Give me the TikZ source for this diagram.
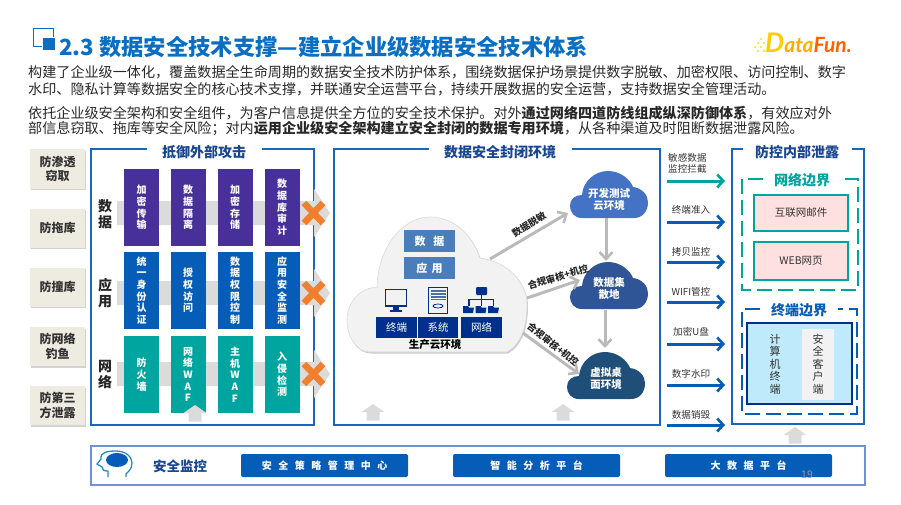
\documentclass[tikz,border=0pt]{standalone}
\usepackage{fontspec}
\setmainfont{Noto Sans CJK SC}
\newfontfamily\logofont{Lato}
\usepackage{xcolor}
\usepackage{tikz}
\usetikzlibrary{arrows.meta, shadows}
\definecolor{frameblue}{RGB}{20,105,190}
\definecolor{titleblue}{RGB}{10,110,195}
\definecolor{headblue}{RGB}{25,70,145}
\definecolor{navy}{RGB}{0,48,140}
\definecolor{cellpurple}{RGB}{71,48,154}
\definecolor{cellblue}{RGB}{5,93,183}
\definecolor{cellteal}{RGB}{0,165,160}
\definecolor{beige}{RGB}{238,236,225}
\definecolor{crossorange}{RGB}{240,128,48}
\definecolor{bodyink}{RGB}{40,40,40}
\definecolor{clouddev}{RGB}{68,114,196}
\definecolor{cloudlake}{RGB}{47,85,151}
\definecolor{cloudvdi}{RGB}{31,78,121}
\definecolor{stackblue}{RGB}{74,126,187}
\definecolor{bandline}{RGB}{110,145,215}
\tikzset{
  sidebox/.style={fill=beige, minimum width=55pt, minimum height=39pt, align=center, font=\fontsize{12}{14.5}\selectfont\bfseries, text=black!80, drop shadow={shadow xshift=1pt, shadow yshift=-1.5pt, opacity=.35}},
  cell/.style={minimum width=35pt, minimum height=77pt, inner sep=0pt, align=center, text=white, font=\fontsize{10}{11.7}\selectfont\bfseries},
  rowlab/.style={align=center, font=\fontsize{14}{16.5}\selectfont\bfseries, text=black!85},
  frametitle/.style={font=\fontsize{14}{16}\selectfont\bfseries, text=headblue},
  frameline/.style={draw=frameblue, line width=1.3pt},
  greybar/.style={fill=black!14},
  upblock/.style={fill=black!14},
  crossmark/.style={draw=crossorange, line width=6.5pt},
  greyarrow/.style={draw=black!27, line width=3pt, -{Straight Barb[length=7pt, width=13pt, line width=2.6pt]}},
  sidearrow/.style={line width=3pt, -{Straight Barb[length=6pt, width=13pt, line width=2.6pt]}},
  flowlab/.style={font=\fontsize{9.5}{11}\selectfont\bfseries, text=black!85, inner sep=0pt},
  sidelab/.style={font=\fontsize{9.6}{11.5}\selectfont, text=black!80, align=left, inner sep=0pt},
  cloudlab/.style={minimum width=78pt, minimum height=47pt, inner sep=0pt, align=center, text=white, font=\fontsize{10.5}{12}\selectfont\bfseries},
  stackbox/.style={fill=#1, inner sep=0pt, text=white},
  bandbox/.style={fill=cellblue, rounded corners=2pt, minimum width=167pt, minimum height=23pt, inner sep=0pt, text=white, font=\fontsize{10}{11}\selectfont\bfseries\addfontfeature{LetterSpace=65}},
  softcloud/.pic={
    \fill[pic actions] (12,47) .. controls (4,47) and (0,41) .. (0,35) .. controls (0,28) and (5,24) .. (12,24)
      .. controls (13,10) and (25,0) .. (38,0) .. controls (50,0) and (60,8) .. (63,16)
      .. controls (72,17) and (78,24) .. (78,31) .. controls (78,41) and (72,47) .. (64,47) -- cycle;
  },
}

\begin{document}
\begin{tikzpicture}[x=1pt, y=-1pt, every node/.style={font=\fontsize{10}{12}\selectfont}]
  \useasboundingbox (0,0) rectangle (901,505);
  % kop
  \draw[titleblue, line width=1pt] (33.5,28.5) rectangle (53,47);
  \fill[white] (42,37) rectangle (56,51);
  \fill[titleblue] (43,38) rectangle (55,50);
  \node[anchor=west, inner sep=0pt, text=titleblue, font=\fontsize{22.3}{24}\selectfont\bfseries] (headline) at (59,47) {2.3 数据安全技术支撑—建立企业级数据安全技术体系};
  % logo
  \foreach \px/\py in {755/47, 758/43, 758/51, 761/39, 761/47, 764/43, 764/51}
    \fill[yellow!85!orange] (\px,\py) circle (1.2);
  \node[anchor=west, inner sep=0pt, font=\logofont\fontsize{27}{28}\selectfont\bfseries\itshape] (logo) at (765,43)
    {\textcolor{yellow!65!orange}{D}\textcolor{orange!65!yellow}{\fontsize{21}{28}\selectfont ata}\textcolor{orange!75!red}{\fontsize{21}{28}\selectfont Fun.}};
  % tekst
  \foreach \ny/\nm/\txt in {
    72/introa/{构建了企业级一体化，覆盖数据全生命周期的数据安全技术防护体系，围绕数据保护场景提供数字脱敏、加密权限、访问控制、数字},
    89/introb/{水印、隐私计算等数据安全的核心技术支撑，并联通安全运营平台，持续开展数据的安全运营，支持数据安全管理活动。},
    113/introc/{依托企业级安全架构和安全组件，为客户信息提供全方位的安全技术保护。对外\textbf{通过网络四道防线组成纵深防御体系}，有效应对外},
    129/introd/{部信息窃取、拖库等安全风险；对内\textbf{运用企业级安全架构建立安全封闭的数据专用环境}，从各种渠道及时阻断数据泄露风险。}}
    \node[anchor=west, inner sep=0pt, text=bodyink, font=\fontsize{14.1}{16}\selectfont] (\nm) at (28,\ny) {\txt};
  % linker kolom
  \foreach \y/\nm/\txt in {169/penetrate/{防渗透\\窃取}, 228/dump/防拖库, 287/stuff/防撞库, 346.5/phish/{防网络\\钓鱼}, 405.5/third/{防第三\\方泄露}}
    \node[sidebox] (\nm) at (57.5,\y) {\txt};
  % kaders
  \draw[frameline] (147,149) -- (91,149) -- (91,425) -- (314,425) -- (314,149) -- (262,149);
  \draw[frameline] (429,149) -- (334,149) -- (334,425) -- (660,425) -- (660,149) -- (572,149);
  \draw[frameline] (743,149) -- (732,149) -- (732,424) -- (864,424) -- (864,149) -- (852,149);
  \node[frametitle] (outertitle) at (204,152) {抵御外部攻击};
  \node[frametitle] (middletitle) at (500,152) {数据安全封闭环境};
  \node[frametitle] (innertitle) at (797,152) {防控内部泄露};
  % grijze pijlen door de rijen
  \foreach \y in {213,293,374}
    \fill[greybar] (117,\y-12) -- (314,\y-12) -- (314,\y-24) -- (330,\y) -- (314,\y+24) -- (314,\y+12) -- (117,\y+12) -- cycle;
  % rijnamen
  \node[rowlab] (rowdata) at (105,214) {数\\据};
  \node[rowlab] (rowapp) at (105,293) {应\\用};
  \node[rowlab] (rownet) at (105,374.5) {网\\络};
  % cellen
  \foreach \x/\nm/\txt in {141.5/a/{加\\密\\传\\输}, 188/b/{数\\据\\隔\\离}, 235/c/{加\\密\\存\\储}, 282/d/{数\\据\\库\\审\\计}}
    \node[cell, fill=cellpurple] (data\nm) at (\x,207.5) {\txt};
  \foreach \x/\nm/\txt in {141.5/a/{统\\一\\身\\份\\认\\证}, 188/b/{授\\权\\访\\问}, 235/c/{数\\据\\权\\限\\控\\制}, 282/d/{应\\用\\安\\全\\监\\测}}
    \node[cell, fill=cellblue] (app\nm) at (\x,290.5) {\txt};
  \foreach \x/\nm/\txt in {141.5/a/{防\\火\\墙}, 188/b/{网\\络\\W\\A\\F}, 235/c/{主\\机\\W\\A\\F}, 282/d/{入\\侵\\检\\测}}
    \node[cell, fill=cellteal] (net\nm) at (\x,374.5) {\txt};
  % kruisen
  \foreach \y in {213,293,374} {
    \draw[crossmark] (304,\y-10) -- (323,\y+10);
    \draw[crossmark] (323,\y-10) -- (304,\y+10);
  }
  % blokpijlen omhoog
  \foreach \x/\y in {195/405, 373/404, 563/404, 795/427} {
    \fill[upblock] (\x,\y) -- (\x+11.5,\y+8) -- (\x+6.5,\y+8) -- (\x+6.5,\y+16.5) -- (\x-6.5,\y+16.5) -- (\x-6.5,\y+8) -- (\x-11.5,\y+8) -- cycle;
  }
  % grote wolk
  \fill[black!5, draw=black!15, line width=.6pt, drop shadow={shadow xshift=1pt, shadow yshift=-1.5pt, opacity=.4}]
    (370,352) .. controls (356,352) and (347,336) .. (347,320) .. controls (347,302) and (360,288) .. (377,287)
    .. controls (378,248) and (402,217) .. (430,217) .. controls (453,217) and (472,234) .. (480,258)
    .. controls (508,262) and (527,282) .. (527,305) .. controls (527,328) and (520,345) .. (507,352) -- cycle;
  \node[stackbox=stackblue, minimum width=51pt, minimum height=22pt, font=\fontsize{11}{13}\selectfont\bfseries\addfontfeature{LetterSpace=70}] (clouddata) at (429.5,241) {数据};
  \node[stackbox=stackblue, minimum width=51pt, minimum height=22pt, font=\fontsize{11}{13}\selectfont\bfseries\addfontfeature{LetterSpace=40}] (cloudapp) at (429.5,268) {应用};
  \node[stackbox=navy, minimum width=41pt, minimum height=21pt, font=\fontsize{10.5}{12}\selectfont] (cloudterm) at (396.5,327.5) {终端};
  \node[stackbox=navy, minimum width=40pt, minimum height=21pt, font=\fontsize{10.5}{12}\selectfont] (cloudsys) at (438,327.5) {系统};
  \node[stackbox=navy, minimum width=41pt, minimum height=21pt, font=\fontsize{10.5}{12}\selectfont] (cloudnet) at (481.5,327.5) {网络};
  \node[inner sep=0pt, text=black, font=\fontsize{10.5}{12}\selectfont\bfseries] (prodlab) at (435,345) {生产云环境};
  % pictogrammen
  \draw[navy, line width=1.2pt] (385.5,289.5) rectangle (406.5,306);
  \fill[navy] (393,306) rectangle (399,310);
  \fill[navy] (390,310) rectangle (402,312);
  \draw[navy, line width=1pt] (428.5,287.5) rectangle (447.5,313);
  \fill[navy!70!white] (430.5,289.5) rectangle (445.5,300);
  \foreach \y in {292,295,298}
    \draw[white, line width=.6pt] (430.5,\y) -- (445.5,\y);
  \draw[navy, line width=.8pt] (438,306) ellipse [x radius=5, y radius=2];
  \fill[navy, rounded corners=1pt] (476,287) rectangle (487,295);
  \draw[navy, line width=1.2pt] (481.5,295) -- (481.5,306) (469,306) -- (469,299.5) -- (493.5,299.5) -- (493.5,306);
  \foreach \x in {463,475.5,488}
    \fill[navy] (\x,306) -- (\x+5,306) -- (\x+6,307.5) -- (\x+11,307.5) -- (\x+10,313) -- (\x,313) -- cycle;
  % kleine wolken
  \pic[fill=clouddev, drop shadow={shadow xshift=1pt, shadow yshift=-1.5pt, opacity=.4}] at (570,171) {softcloud};
  \pic[fill=cloudlake, drop shadow={shadow xshift=1pt, shadow yshift=-1.5pt, opacity=.4}] at (570,262) {softcloud};
  \pic[fill=cloudvdi, drop shadow={shadow xshift=1pt, shadow yshift=-1.5pt, opacity=.4}] at (567,352) {softcloud};
  \node[cloudlab] (devcloud) at (609,200) {开发测试\\云环境};
  \node[cloudlab] (lakecloud) at (609,288) {数据集\\散地};
  \node[cloudlab] (vdicloud) at (606,379) {虚拟桌\\面环境};
  % verbindingen
  \coordinate (prodtop) at (490,259);
  \coordinate (prodright) at (527,298);
  \coordinate (prodlow) at (523,333);
  \coordinate (devin) at (568,213);
  \coordinate (lakein) at (580,280);
  \coordinate (vdiin) at (579,374);
  \coordinate (devout) at (606,218);
  \coordinate (lakeintop) at (606,261);
  \coordinate (lakeout) at (605,310);
  \coordinate (vdiintop) at (605,348);
  \draw[greyarrow] (prodtop) -- (devin);
  \draw[greyarrow] (prodright) -- (lakein);
  \draw[greyarrow] (prodlow) -- (vdiin);
  \draw[greyarrow] (devout) -- (lakeintop);
  \draw[greyarrow] (lakeout) -- (vdiintop);
  \node[flowlab, rotate=32] (masklab) at (529,224) {数据脱敏};
  \node[flowlab, rotate=17] (auditlaba) at (558,277) {合规审核+机控};
  \node[flowlab, rotate=-39] (auditlabb) at (553,344) {合规审核+机控};
  % pijlen rechts
  \foreach \i/\y/\col in {1/181/cellteal, 2/222/cellblue, 3/262/cellblue, 4/302/cellblue, 5/344/cellblue, 6/385/cellblue, 7/425/cellblue} {
    \coordinate (guardfrom\i) at (667,\y);
    \coordinate (guardto\i) at (725,\y);
    \draw[sidearrow, draw=\col] (guardfrom\i) -- (guardto\i);
  }
  \node[sidelab, anchor=west] (guardlaba) at (668,163.5) {敏感数据\\监控拦截};
  \foreach \i/\y/\txt in {b/210/终端准入, c/252/拷贝监控, d/292/WIFI管控, e/332/加密U盘, f/374/数字水印, g/415/数据销毁}
    \node[sidelab] (guardlab\i) at (691,\y) {\txt};
  % netwerkgrens
  \draw[cellteal, line width=1.5pt, dash pattern=on 15pt off 6pt] (763,179) -- (742,179) -- (742,290) -- (858,290) -- (858,179) -- (842,179);
  \node[text=cellteal, inner sep=0pt, font=\fontsize{14}{16}\selectfont\bfseries] (nettitle) at (802,180) {网络边界};
  \node[fill=red!12, draw=cellteal, line width=1.5pt, minimum width=94pt, minimum height=36pt, inner sep=0pt, text=black!80, font=\fontsize{10.5}{12}\selectfont] (mailbox) at (801,213) {互联网邮件};
  \node[fill=red!12, draw=cellteal, line width=1.5pt, minimum width=94pt, minimum height=38pt, inner sep=0pt, text=black!80, font=\fontsize{10.5}{12}\selectfont] (webbox) at (801,261) {WEB网页};
  % eindpuntgrens
  \draw[cellblue, line width=1.5pt, dash pattern=on 15pt off 6pt] (760,309) -- (742,309) -- (742,414) -- (857,414) -- (857,309) -- (838,309);
  \node[text=cellblue, inner sep=0pt, font=\fontsize{14}{16}\selectfont\bfseries] (termtitle) at (799,310) {终端边界};
  \fill[cyan!25!white, draw=navy, line width=1.5pt] (747,323) rectangle (852,404);
  \fill[black!5] (802,329) rectangle (834,400);
  \node[align=center, inner sep=0pt, text=black!80, font=\fontsize{11}{12.5}\selectfont] (pcnode) at (775,364) {计\\算\\机\\终\\端};
  \node[align=center, inner sep=0pt, text=black!80, font=\fontsize{11}{12.5}\selectfont] (clientnode) at (818,364) {安\\全\\客\\户\\端};
  % monitorband
  \draw[bandline, line width=1.2pt] (91,446) rectangle (865,485);
  \draw[cyan!50!cellblue, line width=1.3pt] (108,477) -- (108,471) .. controls (104,471) and (102,470) .. (102,467) -- (97,464) -- (101,459)
    .. controls (100,452) and (108,451) .. (116,451) .. controls (126,451) and (132,457) .. (132,463) .. controls (132,469) and (128,472) .. (126,474) -- (126,477);
  \fill[cellblue] (117,460) ellipse [x radius=11, y radius=7];
  \node[text=headblue, inner sep=0pt, font=\fontsize{13.5}{15}\selectfont\bfseries] (monitorlab) at (180,466) {安全监控};
  \node[bandbox] (policybox) at (324.5,465.5) {安全策略管理中心};
  \node[bandbox] (analysisbox) at (536.5,465.5) {智能分析平台};
  \node[bandbox] (bigdatabox) at (748.5,465.5) {大数据平台};
  \node[text=black!40, inner sep=0pt, font=\fontsize{10.5}{12}\selectfont] (pageno) at (807,475) {19};
\end{tikzpicture}
\end{document}
